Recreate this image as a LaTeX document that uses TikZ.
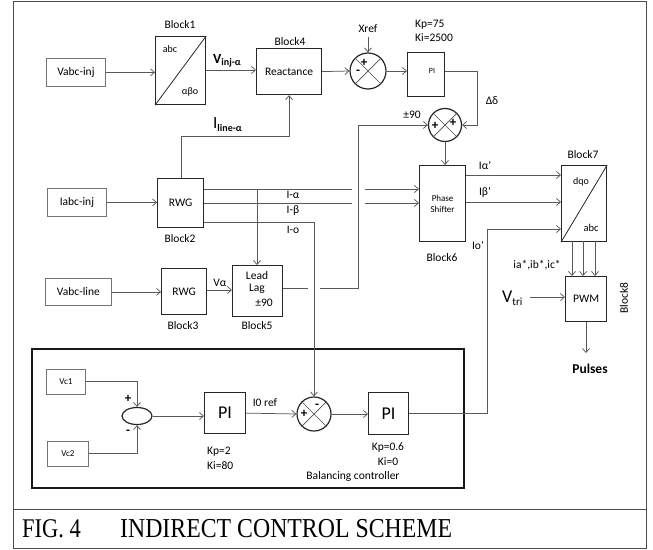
\documentclass[tikz,border=0pt]{standalone}
\usepackage{fontspec}
\setmainfont{Carlito}
\newfontfamily\capfont{Liberation Serif}
\usetikzlibrary{arrows.meta,shapes.geometric,calc}
\begin{document}
\begin{tikzpicture}[x=1pt,y=-1pt,
  fs/.style={font=\fontsize{#1}{#1}\selectfont},
  blk/.style={draw=black!85, line width=1.2pt, inner sep=0pt, anchor=north west, fs=11.5},
  ibox/.style={draw=black!55, line width=0.8pt, inner sep=0pt, anchor=north west, fs=11.5},
  wire/.style={draw=black!65, line width=0.75pt},
  arr/.style={wire, -{Straight Barb[length=4pt,width=7pt]}},
  lbl/.style={inner sep=0pt, fs=11.5},
  sgn/.style={inner sep=0pt, font=\bfseries\fontsize{13}{13}\selectfont},
  sumc/.style={circle, draw=black!85, line width=1.2pt, inner sep=0pt},
]
\useasboundingbox (0,0) rectangle (653,549);
% frame
\draw[black!70, line width=1pt] (13,1) rectangle (646,548);
\draw[black!70, line width=1pt] (13,509) -- (646,509);
\node[anchor=base west, inner sep=0pt, font=\capfont\fontsize{22.5}{22.5}\selectfont] (cap1) at (22,537) {\scalebox{1}[1.2]{FIG. 4}};
\node[anchor=base west, inner sep=0pt, font=\capfont\fontsize{23.8}{23.8}\selectfont] (cap2) at (120,537) {\scalebox{1}[1.15]{INDIRECT CONTROL SCHEME}};

% top row
\node[ibox, minimum width=59pt, minimum height=28pt] (vinj) at (46,58) {Vabc-inj};
\node[blk, minimum width=50pt, minimum height=68pt] (b1) at (155,36) {};
\draw[black!85, line width=0.8pt] (b1.south west) -- (b1.north east);
\node[lbl, fs=10] (b1t) at (170,49) {abc};
\node[lbl, fs=10] (b1b) at (190,92) {αβo};
\node[lbl] (b1l) at (180,25) {Block1};
\node[blk, minimum width=65pt, minimum height=46pt] (b4) at (256,48) {Reactance};
\node[lbl] (b4l) at (290,42) {Block4};
\node[sumc, minimum size=36pt] (s1) at (368,71) {};
\draw[black!70, line width=0.7pt] (s1.north east) -- (s1.south west) (s1.north west) -- (s1.south east);
\node[sgn] (s1p) at (364,63) {+};
\node[sgn] (s1m) at (358,72) {-};
\node[lbl] (xref) at (368,29) {Xref};
\coordinate (xr) at (368,37);
\node[blk, minimum width=37pt, minimum height=44pt] (pi1) at (407,52) {};
\node[lbl, fs=8] (pi1t) at (432,71) {PI};
\node[lbl, anchor=west] (kp1) at (415,25) {Kp=75};
\node[lbl, anchor=west] (ki1) at (415,38) {Ki=2500};
\node[sumc, minimum size=33pt] (s2) at (445,125) {};
\draw[black!70, line width=0.7pt] (s2.north east) -- (s2.south west) (s2.north west) -- (s2.south east);
\node[sgn] (s2a) at (435,126) {+};
\node[sgn] (s2b) at (453,123) {+};
\node[lbl] (dd) at (492,101) {Δδ};
\node[lbl] (pm90) at (412,115) {±90};

\node[lbl, font=\bfseries\fontsize{14}{14}\selectfont, anchor=base west] (vinjl) at (213,63) {V\raisebox{-2.5pt}{\fontsize{10}{10}\selectfont inj-α}};
\node[lbl, font=\fontsize{17}{17}\selectfont, anchor=base west] (ilinel) at (213,128) {I\raisebox{-3pt}{\bfseries\fontsize{10}{10}\selectfont line-α}};

% middle
\node[ibox, minimum width=59pt, minimum height=28pt] (iinj) at (47,188) {Iabc-inj};
\node[blk, minimum width=46pt, minimum height=49pt] (b2) at (157,178) {RWG};
\node[lbl] (b2l) at (180,239) {Block2};
\node[ibox, minimum width=66pt, minimum height=27pt] (vline) at (45,278) {Vabc-line};
\node[blk, minimum width=45pt, minimum height=46pt] (b3) at (161,268) {RWG};
\node[lbl] (b3l) at (183,326) {Block3};
\node[blk, minimum width=50pt, minimum height=51pt] (b5) at (232,265) {};
\node[lbl] (b5a) at (257,276) {Lead};
\node[lbl] (b5b) at (257,289) {Lag};
\node[lbl] (b5c) at (264,303) {±90};
\node[lbl] (b5l) at (257,326) {Block5};
\node[lbl] (valpha) at (220,283) {Vα};
\node[lbl] (la) at (293,195) {I-α};
\node[lbl] (lb) at (293,211) {I-β};
\node[lbl] (lo) at (293,230) {I-o};

\node[blk, minimum width=46pt, minimum height=76pt, fs=9, align=center] (b6) at (419,165) {Phase\\[2pt]Shifter};
\node[lbl] (b6l) at (442,258) {Block6};
\node[blk, minimum width=45pt, minimum height=76pt] (b7) at (561,165) {};
\draw[black!85, line width=0.8pt] (b7.south west) -- (b7.north east);
\node[lbl, fs=10] (b7t) at (581,182) {dqo};
\node[lbl, fs=10.5] (b7b) at (591,228) {abc};
\node[lbl] (b7l) at (583,155) {Block7};
\node[lbl] (ia1) at (485,165) {Iα’};
\node[lbl] (ib1) at (485,192) {Iβ’};
\node[lbl] (io1) at (478,245) {Io’};
\node[blk, minimum width=41pt, minimum height=45pt] (pwm) at (565,276) {PWM};
\node[lbl, rotate=90] (b8l) at (624,298) {Block8};
\node[lbl] (iabc) at (537,265) {ia*,ib*,ic*};
\node[lbl, fs=18, anchor=base west] (vtri) at (502,302) {V\raisebox{-3pt}{\fontsize{11}{11}\selectfont tri}};
\coordinate (vt) at (530,297);
\coordinate (pul) at (586,353);
\node[lbl, font=\bfseries\fontsize{13.5}{13.5}\selectfont] (pulses) at (590,369) {Pulses};

% balancing controller
\draw[black!90, line width=2.8pt] (32,349) rectangle (464,488);
\node[ibox, minimum width=39pt, minimum height=25pt, fs=9] (vc1) at (46,369) {Vc1};
\node[ibox, minimum width=41pt, minimum height=25pt, fs=9] (vc2) at (47,441) {Vc2};
\node[ellipse, draw=black!85, line width=1.2pt, minimum width=30pt, minimum height=17pt, inner sep=0pt] (ell) at (137,416) {};
\node[sgn] (ep) at (128,399) {+};
\node[sgn] (em) at (128,432) {-};
\node[blk, minimum width=41pt, minimum height=41pt, fs=18] (pi2) at (204,392) {PI};
\node[lbl, anchor=west] (kp2) at (207,452) {Kp=2};
\node[lbl, anchor=west] (ki2) at (207,466) {Ki=80};
\node[lbl] (i0ref) at (265,403) {I0 ref};
\node[sumc, minimum size=34pt] (s3) at (314,414) {};
\draw[black!70, line width=0.7pt] (s3.north east) -- (s3.south west) (s3.north west) -- (s3.south east);
\node[sgn] (s3p) at (304,414) {+};
\node[sgn] (s3m) at (317,406) {-};
\node[blk, minimum width=40pt, minimum height=42pt, fs=18] (pi3) at (368,392) {PI};
\node[lbl] (kp3) at (388,448) {Kp=0.6};
\node[lbl] (ki3) at (388,462) {Ki=0};
\node[lbl] (balc) at (353,476) {Balancing controller};

% connectors - top
\draw[arr] (vinj.east) -- (vinj.east -| b1.west);
\draw[arr] (b1.east |- 0,70) -- (b4.west |- 0,70);
\draw[arr] (b4.east) -- (s1.west);
\draw[arr] (xr) -- (s1.north);
\draw[arr] (s1.east) -- (s1.east -| pi1.west);
\coordinate (p1a) at (477,71);
\draw[arr] (pi1.east |- p1a) -- (p1a) -- (p1a |- s2.east) -- (s2.east);
\coordinate (l1) at (181,136);
\draw[arr] (b2.north -| l1) -- (l1) -- (l1 -| b4.south) -- (b4.south);
\draw[arr] (s2.south) -- (s2.south |- b6.north);

% middle
\draw[arr] (iinj.east) -- (iinj.east -| b2.west);
\draw[arr] (vline.east) -- (vline.east -| b3.west);
\coordinate (ya) at (0,189);
\coordinate (yb) at (0,203);
\draw[arr] (b2.east |- ya) -- (b6.west |- ya);
\draw[arr] (b2.east |- yb) -- (b6.west |- yb);
\fill[white] (352,184) rectangle (365,208);
\coordinate (br) at (257,189);
\draw[arr] (br) -- (br |- b5.north);
\coordinate (yv) at (0,290);
\draw[arr] (b3.east |- yv) -- (b5.west |- yv);
\coordinate (c1) at (358,288);
\draw[arr] (b5.east |- c1) -- (c1) -- (c1 |- s2.west) -- (s2.west);
\fill[white] (308,283) rectangle (320,293);
\coordinate (c3) at (314,222);
\draw[arr] (b2.east |- c3) -- (c3) -- (s3.north);

\draw[arr] ($(b6.north east)+(0,10)$) -- ($(b7.north west)+(0,10)$);
\draw[arr] ($(b6.north east)+(0,37)$) -- ($(b7.north west)+(0,37)$);
\coordinate (t1) at (572,241);
\coordinate (t2) at (583,241);
\coordinate (t3) at (595,241);
\draw[arr] (t1) -- (t1 |- pwm.north);
\draw[arr] (t2) -- (t2 |- pwm.north);
\draw[arr] (t3) -- (t3 |- pwm.north);
\draw[arr] (vt) -- (vt -| pwm.west);
\draw[arr] (pul |- pwm.south) -- (pul);

% balancing connectors
\coordinate (e1) at (137,381);
\coordinate (e2) at (137,453);
\draw[arr] (vc1.east |- e1) -- (e1) -- (ell.north);
\draw[arr] (vc2.east |- e2) -- (e2) -- (ell.south);
\draw[arr] (ell.east) -- (ell.east -| pi2.west);
\draw[arr] (pi2.east) -- (s3.west);
\draw[arr] (s3.east) -- (s3.east -| pi3.west);
\coordinate (o1) at (487,413);
\coordinate (o2) at (487,229);
\draw[arr] (pi3.east |- o1) -- (o1) -- (o2) -- (o2 -| b7.west);
\end{tikzpicture}
\end{document}
